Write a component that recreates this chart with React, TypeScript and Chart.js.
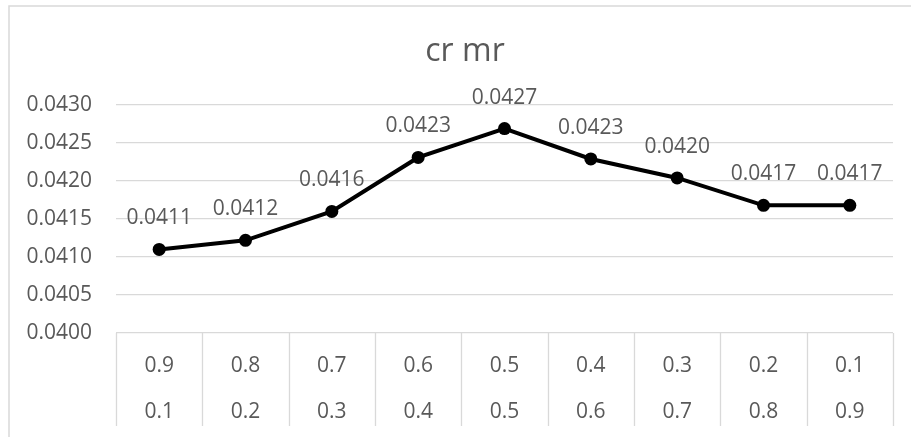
import React, { useEffect, useRef } from "react";
import { Chart, registerables } from "chart.js";

Chart.register(...registerables);

// Two-level category axis: top row (cr) and bottom row (mr)
const crValues = ["0.9", "0.8", "0.7", "0.6", "0.5", "0.4", "0.3", "0.2", "0.1"];
const mrValues = ["0.1", "0.2", "0.3", "0.4", "0.5", "0.6", "0.7", "0.8", "0.9"];
const seriesValues = [0.0411, 0.04122, 0.0416, 0.04231, 0.04269, 0.04229, 0.04204, 0.04168, 0.04168];
const yMin = 0.04;
const yMax = 0.043;
const yStep = 0.0005;
const titleText = "cr mr";

const FONT = "'Open Sans', 'Noto Sans', sans-serif";
const TEXT = "#595959";
const LINE = "#d9d9d9";

const decorations = {
  id: "decorations",
  beforeDraw(chart: any) {
    const ctx = chart.ctx;
    ctx.save();
    ctx.fillStyle = "#ffffff";
    ctx.fillRect(0, 0, chart.width, chart.height);
    // outer chart frame
    ctx.strokeStyle = LINE;
    ctx.lineWidth = 1.5;
    ctx.beginPath();
    ctx.moveTo(9, chart.height);
    ctx.lineTo(9, 6);
    ctx.lineTo(chart.width, 6);
    ctx.stroke();
    // title
    ctx.fillStyle = TEXT;
    ctx.font = `32px ${FONT}`;
    ctx.textAlign = "center";
    ctx.textBaseline = "alphabetic";
    ctx.fillText(titleText, 465, 61);
    ctx.restore();
  },
  afterDraw(chart: any) {
    const ctx = chart.ctx;
    const area = chart.chartArea;
    const x = chart.scales.x;
    const n = crValues.length;
    const band = (area.right - area.left) / n;
    ctx.save();
    // category table lines
    ctx.strokeStyle = LINE;
    ctx.lineWidth = 1.3;
    ctx.beginPath();
    for (let i = 0; i <= n; i++) {
      const gx = Math.round(area.left + i * band) + 0.5;
      ctx.moveTo(gx, area.bottom);
      ctx.lineTo(gx, area.bottom + 93);
    }
    ctx.stroke();
    // category labels
    ctx.fillStyle = TEXT;
    ctx.font = `21px ${FONT}`;
    ctx.textAlign = "center";
    ctx.textBaseline = "alphabetic";
    for (let i = 0; i < n; i++) {
      const cx = x.getPixelForValue(i);
      ctx.fillText(crValues[i], cx, area.bottom + 39);
      ctx.fillText(mrValues[i], cx, area.bottom + 85);
    }
    ctx.restore();
  },
  afterDatasetsDraw(chart: any) {
    const ctx = chart.ctx;
    const meta = chart.getDatasetMeta(0);
    ctx.save();
    ctx.fillStyle = TEXT;
    ctx.font = `21px ${FONT}`;
    ctx.textAlign = "center";
    ctx.textBaseline = "alphabetic";
    meta.data.forEach((pt: any, i: number) => {
      ctx.fillText(seriesValues[i].toFixed(4), pt.x, pt.y - 25);
    });
    ctx.restore();
  },
};

export default function App() {
  const canvasRef = useRef<HTMLCanvasElement | null>(null);

  useEffect(() => {
    if (!canvasRef.current) return;
    const chart = new Chart(canvasRef.current, {
      type: "line",
      data: {
        labels: crValues.map((c, i) => `${c} ${mrValues[i]}`),
        datasets: [
          {
            data: seriesValues,
            borderColor: "#000000",
            backgroundColor: "#000000",
            borderWidth: 4,
            pointRadius: 6.5,
            pointBorderWidth: 0,
            pointBackgroundColor: "#000000",
            tension: 0,
          },
        ],
      },
      options: {
        responsive: false,
        animation: false,
        layout: { padding: { top: 105, right: 18, bottom: 0, left: 0 } },
        plugins: {
          legend: { display: false },
          tooltip: { enabled: false },
          title: { display: false },
        },
        scales: {
          x: {
            type: "category",
            offset: true,
            grid: { display: false },
            border: { display: false },
            ticks: { display: false },
            afterFit: (s: any) => {
              s.height = 104;
            },
          },
          y: {
            min: yMin,
            max: yMax,
            grid: { color: LINE, lineWidth: 1.3, drawTicks: false },
            border: { display: false },
            ticks: {
              stepSize: yStep,
              padding: 24,
              color: TEXT,
              font: { family: FONT, size: 21 },
              callback: (v: any) => Number(v).toFixed(4),
            },
            afterFit: (s: any) => {
              s.width = 116;
            },
          },
        },
      },
      plugins: [decorations],
    });
    return () => chart.destroy();
  }, []);

  return (
    <div style={{ position: "absolute", left: 0, top: 0, width: 911, height: 437 }}>
      <canvas ref={canvasRef} width={911} height={437} />
    </div>
  );
}
